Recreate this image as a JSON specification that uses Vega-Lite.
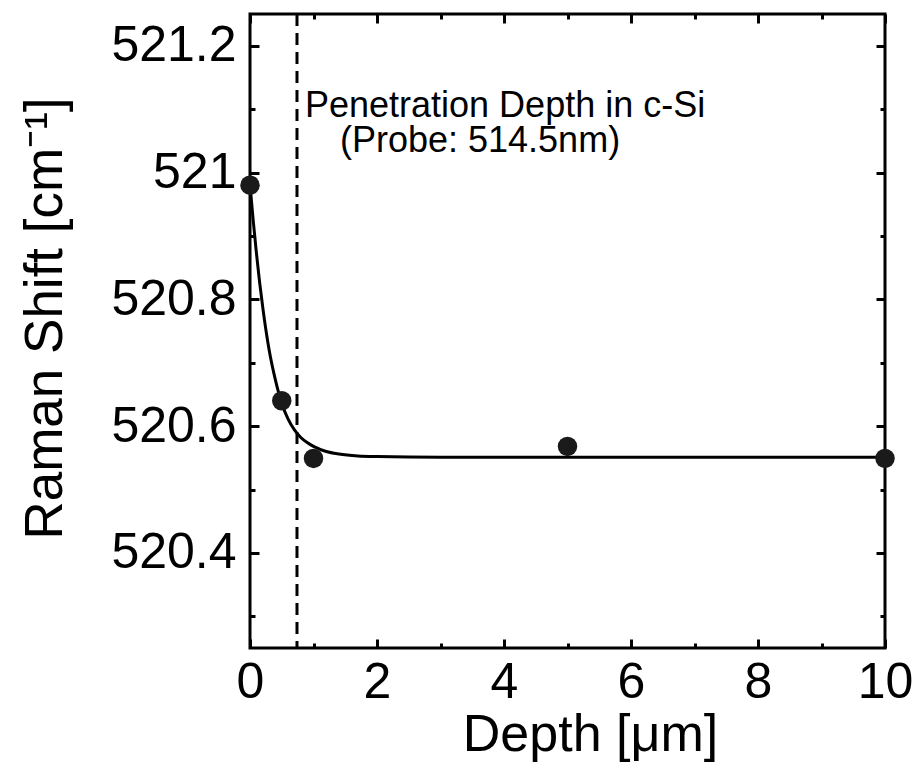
{
  "$schema": "https://vega.github.io/schema/vega-lite/v6.json",
  "width": 635,
  "height": 634,
  "autosize": {"type": "none"},
  "padding": {"left": 250, "top": 14, "right": 34, "bottom": 118},
  "background": "white",
  "config": {
    "view": {"stroke": "black", "strokeWidth": 3},
    "axis": {
      "domain": false,
      "grid": false,
      "tickColor": "black",
      "tickWidth": 3,
      "labelFont": "Liberation Sans",
      "titleFont": "Liberation Sans",
      "labelColor": "black",
      "titleColor": "black",
      "labelFontWeight": "normal",
      "titleFontWeight": "normal",
      "labelFlush": false
    }
  },
  "datasets": {
    "curve": [
      {"depth": 0, "shift": 520.981},
      {"depth": 0.05, "shift": 520.925},
      {"depth": 0.1, "shift": 520.874},
      {"depth": 0.15, "shift": 520.828},
      {"depth": 0.2, "shift": 520.788},
      {"depth": 0.25, "shift": 520.752},
      {"depth": 0.3, "shift": 520.721},
      {"depth": 0.4, "shift": 520.673},
      {"depth": 0.5, "shift": 520.636},
      {"depth": 0.6, "shift": 520.611},
      {"depth": 0.7, "shift": 520.594},
      {"depth": 0.8, "shift": 520.582},
      {"depth": 0.9, "shift": 520.574},
      {"depth": 1.0, "shift": 520.568},
      {"depth": 1.2, "shift": 520.56},
      {"depth": 1.4, "shift": 520.556},
      {"depth": 1.7, "shift": 520.553},
      {"depth": 2.0, "shift": 520.552},
      {"depth": 3.0, "shift": 520.551},
      {"depth": 10.0, "shift": 520.551}
    ],
    "measured": [
      {"depth": 0, "shift": 520.98},
      {"depth": 0.5, "shift": 520.64},
      {"depth": 1, "shift": 520.549},
      {"depth": 5, "shift": 520.568},
      {"depth": 10, "shift": 520.549}
    ],
    "penetration": [{"depth": 0.74}],
    "label1": [{"depth": 0.866, "shift": 521.087, "text": "Penetration Depth in c-Si"}],
    "label2": [{"depth": 1.417, "shift": 521.033, "text": "(Probe: 514.5nm)"}]
  },
  "layer": [
    {
      "data": {"name": "curve"},
      "mark": {"type": "line", "color": "black", "strokeWidth": 3, "interpolate": "monotone"},
      "encoding": {
        "x": {
          "field": "depth", "type": "quantitative",
          "scale": {"domain": [0, 10], "nice": false, "zero": false},
          "axis": {"orient": "bottom", "values": [0, 2, 4, 6, 8, 10], "tickSize": -9, "labelPadding": 18, "labelFontSize": 50, "title": "Depth [μm]", "titleFontSize": 52, "titlePadding": 2, "titleX": 340}
        },
        "y": {
          "field": "shift", "type": "quantitative",
          "scale": {"domain": [520.25, 521.25], "nice": false, "zero": false},
          "axis": {"orient": "left", "values": [520.4, 520.6, 520.8, 521, 521.2], "format": ".4~g", "tickSize": -9, "labelPadding": 23, "labelFontSize": 50, "title": "Raman Shift [cm⁻¹]", "titleFontSize": 53, "titlePadding": 38, "titleY": 304}
        }
      }
    },
    {
      "data": {"name": "measured"},
      "mark": {"type": "point", "filled": true, "color": "#1a1a1a", "opacity": 1, "size": 380},
      "encoding": {
        "x": {
          "field": "depth", "type": "quantitative",
          "scale": {"domain": [0, 10], "nice": false, "zero": false},
          "axis": {"orient": "bottom", "values": [1, 3, 5, 7, 9], "tickSize": -5, "labels": false, "title": null}
        },
        "y": {
          "field": "shift", "type": "quantitative",
          "scale": {"domain": [520.25, 521.25], "nice": false, "zero": false},
          "axis": {"orient": "left", "values": [520.3, 520.5, 520.7, 520.9, 521.1], "tickSize": -5, "labels": false, "title": null}
        }
      }
    },
    {
      "data": {"name": "penetration"},
      "mark": {"type": "rule", "color": "black", "strokeWidth": 3, "strokeDash": [12, 7]},
      "encoding": {
        "x": {
          "field": "depth", "type": "quantitative",
          "scale": {"domain": [0, 10], "nice": false, "zero": false},
          "axis": {"orient": "top", "values": [0, 2, 4, 6, 8, 10], "tickSize": -9, "labels": false, "title": null}
        }
      }
    },
    {
      "data": {"name": "label1"},
      "mark": {"type": "text", "font": "Liberation Sans", "fontSize": 36, "align": "left", "baseline": "alphabetic", "color": "black"},
      "encoding": {
        "x": {
          "field": "depth", "type": "quantitative",
          "scale": {"domain": [0, 10], "nice": false, "zero": false},
          "axis": {"orient": "top", "values": [1, 3, 5, 7, 9], "tickSize": -5, "labels": false, "title": null}
        },
        "y": {
          "field": "shift", "type": "quantitative",
          "scale": {"domain": [520.25, 521.25], "nice": false, "zero": false},
          "axis": {"orient": "right", "values": [520.4, 520.6, 520.8, 521, 521.2], "tickSize": -9, "labels": false, "title": null}
        },
        "text": {"field": "text"}
      }
    },
    {
      "data": {"name": "label2"},
      "mark": {"type": "text", "font": "Liberation Sans", "fontSize": 36, "align": "left", "baseline": "alphabetic", "color": "black"},
      "encoding": {
        "x": {
          "field": "depth", "type": "quantitative",
          "scale": {"domain": [0, 10], "nice": false, "zero": false},
          "axis": null
        },
        "y": {
          "field": "shift", "type": "quantitative",
          "scale": {"domain": [520.25, 521.25], "nice": false, "zero": false},
          "axis": {"orient": "right", "values": [520.3, 520.5, 520.7, 520.9, 521.1], "tickSize": -5, "labels": false, "title": null}
        },
        "text": {"field": "text"}
      }
    }
  ],
  "resolve": {"axis": {"x": "independent", "y": "independent"}}
}
